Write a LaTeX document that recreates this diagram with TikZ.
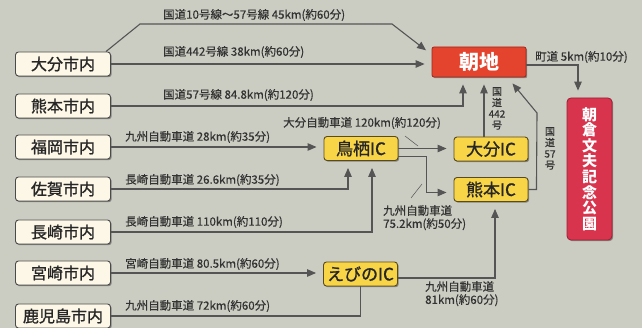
\documentclass[tikz,border=0pt]{standalone}
\usepackage{fontspec}
\setmainfont{Noto Sans CJK JP}
\newfontfamily\boxjp[FakeBold=1.2]{Noto Sans CJK JP}
\newfontfamily\labjp[FakeBold=0.4]{Noto Sans CJK JP}
\usetikzlibrary{arrows.meta,shadows,calc}
\definecolor{bg}{HTML}{CBCDC2}
\definecolor{linec}{HTML}{555555}
\definecolor{txt}{HTML}{333333}
\definecolor{srcfill}{HTML}{FCF7E6}
\definecolor{boxline}{HTML}{4A4A4A}
\definecolor{icfill}{HTML}{F8D447}
\definecolor{icline}{HTML}{5A4A20}
\definecolor{destfill}{HTML}{E4432D}
\definecolor{destline}{HTML}{A0281E}
\definecolor{parkfill}{HTML}{D8344E}
\definecolor{parkline}{HTML}{9A2035}
\begin{document}
\begin{tikzpicture}[x=1pt,y=-1pt,
  road/.style={draw=linec,line width=1.1pt},
  arr/.style={road,-{Triangle[length=9pt,width=7.5pt]},shorten >=7pt},
  leader/.style={draw=linec,line width=0.5pt},
  shad/.style={drop shadow={shadow xshift=1.2pt,shadow yshift=-1.2pt,fill=black,opacity=0.35}},
  src/.style={shad,draw=boxline,fill=srcfill,rounded corners=3pt,line width=0.9pt,
    minimum width=95pt,minimum height=24pt,inner sep=0pt,text=black!85,
    font=\boxjp\fontsize{16}{16}\selectfont},
  ic/.style={shad,draw=icline,fill=icfill,rounded corners=3pt,line width=0.9pt,
    minimum width=74pt,minimum height=24pt,inner sep=0pt,text=black!85,
    font=\boxjp\fontsize{17}{17}\selectfont},
  dest/.style={shad,draw=destline,fill=destfill,rounded corners=2pt,line width=0.8pt,
    minimum width=94pt,minimum height=30pt,inner sep=0pt,text=white,
    font=\bfseries\fontsize{20}{20}\selectfont},
  park/.style={shad,draw=parkline,fill=parkfill,rounded corners=4pt,line width=0.8pt,
    minimum width=45pt,minimum height=142pt,inner sep=0pt,text=white,align=center,
    font=\bfseries\fontsize{15}{15.6}\selectfont},
  lab/.style={font=\labjp\fontsize{11.5}{13}\selectfont,text=txt,inner sep=0pt,anchor=west},
  vlab/.style={font=\labjp\fontsize{10}{11.2}\selectfont,text=txt,inner sep=0pt,anchor=north,align=center}]

\fill[bg] (0,0) rectangle (642,328);
\useasboundingbox (0,0) rectangle (642,328);

% source boxes
\node[src] (oita) at (63,64) {大分市内};
\node[src] (kuma) at (63,106) {熊本市内};
\node[src] (fuku) at (63,147) {福岡市内};
\node[src] (saga) at (63,189) {佐賀市内};
\node[src] (naga) at (63,232) {長崎市内};
\node[src] (miya) at (63,273) {宮崎市内};
\node[src] (kago) at (63,316) {鹿児島市内};

% destination and IC boxes
\node[dest] (asaji) at (479,62) {朝地};
\node[park] (park) at (589.5,169) {朝\\倉\\文\\夫\\記\\念\\公\\園};
\node[ic] (tosu) at (361,148.5) {鳥栖IC};
\node[ic] (oitaic) at (491,149) {大分IC};
\node[ic] (kumaic) at (491,189.5) {熊本IC};
\node[ic] (ebino) at (360.5,274) {えびのIC};

% connectors
\draw[arr] ([xshift=-5pt]oita.north east) -- (140,24) -- (392,24) -- ($(asaji.north west)+(0,8)$);
\draw[arr] (oita.east) -- (oita.east -| asaji.west);
\draw[arr] (kuma.east) -| ($(asaji.south)+(-16,0)$);
\draw[arr] ([xshift=-7pt]oitaic.north) -- ([xshift=-7pt]oitaic.north |- asaji.south);
\draw[arr] (kumaic.east) -- ($(kumaic.east)+(8,0)$) -- (537,113) -- (508,78);
\draw[arr] ([yshift=-3pt]asaji.east) -| ([xshift=-11.5pt]park.north);
\draw[arr] (fuku.east) -- (fuku.east -| tosu.west);
\draw[arr] (saga.east) -| ([xshift=-13pt]tosu.south);
\draw[arr] (naga.east) -| ([xshift=11pt]tosu.south);
\draw[arr] (miya.east) -- (miya.east -| ebino.west);
\draw[road] (kago.east) -| (ebino.south);
\draw[arr] (tosu.east) -- (tosu.east -| oitaic.west);
\draw[arr] ([yshift=-8pt]tosu.east) -- ($([yshift=-8pt]tosu.east)+(28,0)$) |- ([yshift=-3pt]kumaic.west);
\draw[arr] ([yshift=-4pt]ebino.east) -| ([xshift=4pt]kumaic.south);

% labels
\node[lab] (l1) at (163,15) {国道10号線〜57号線 45km(約60分)};
\node[lab] (l2) at (163,52) {国道442号線 38km(約60分)};
\node[lab] (l3) at (163,95) {国道57号線 84.8km(約120分)};
\node[lab] (l4) at (283,123) {大分自動車道 120km(約120分)};
\node[lab] (l5) at (125,137) {九州自動車道 28km(約35分)};
\node[lab] (l6) at (125,180) {長崎自動車道 26.6km(約35分)};
\node[lab] (l7) at (125,222) {長崎自動車道 110km(約110分)};
\node[lab] (l8) at (125,264) {宮崎自動車道 80.5km(約60分)};
\node[lab] (l9) at (125,306) {九州自動車道 72km(約60分)};
\node[lab,align=left,anchor=north west] (l10) at (383,205) {九州自動車道\\75.2km(約50分)};
\node[lab,align=left,anchor=north west] (l11) at (425,281) {九州自動車道\\81km(約60分)};
\node[lab] (l12) at (535,57) {町道 5km(約10分)};
\node[vlab] (v1) at (497,87) {国\\道\\442\\号};
\node[vlab] (v2) at (550,127) {国\\道\\57\\号};

% leader lines
\draw[leader] (405,136) -- (418,146);
\draw[leader] (411,198) -- (422,184);
\end{tikzpicture}
\end{document}
